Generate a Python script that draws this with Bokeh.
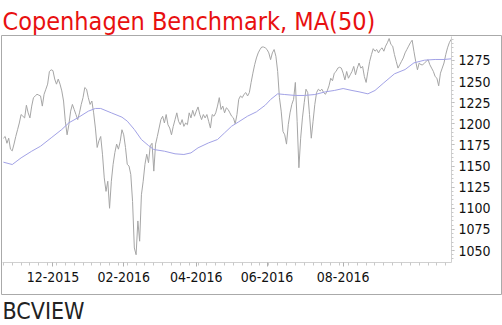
from bokeh.plotting import figure
from bokeh.models import FixedTicker, Range1d, Title, ColumnDataSource
from bokeh.embed import file_html
from bokeh.resources import INLINE

# closes, one per trading day
close = [
    1183, 1185, 1177, 1183, 1170, 1168, 1176, 1185, 1193, 1201,
    1211, 1209, 1207, 1222, 1213, 1207, 1221, 1231, 1233, 1235,
    1234, 1233, 1221, 1235, 1241, 1247, 1262, 1264, 1263, 1253,
    1247, 1253, 1247, 1239, 1227, 1203, 1187, 1199, 1215, 1223,
    1217, 1211, 1205, 1213, 1223, 1231, 1243, 1241, 1231, 1223,
    1227, 1213, 1195, 1172, 1180, 1185, 1164, 1136, 1120, 1132,
    1100, 1132, 1152, 1166, 1176, 1170, 1179, 1193, 1187, 1172,
    1152, 1150, 1140, 1108, 1053, 1045, 1085, 1061, 1116, 1132,
    1152, 1164, 1154, 1174, 1177, 1144, 1176, 1185, 1195, 1205,
    1209, 1201, 1211, 1199, 1195, 1187, 1197, 1205, 1213, 1203,
    1199, 1205, 1197, 1201, 1199, 1213, 1207, 1216, 1209, 1215,
    1220, 1211, 1205, 1211, 1207, 1211, 1203, 1195, 1211, 1209,
    1213, 1221, 1231, 1217, 1221, 1213, 1219, 1217, 1213, 1209,
    1207, 1200, 1211, 1229, 1233, 1231, 1235, 1237, 1233, 1237,
    1249, 1260, 1270, 1278, 1284, 1288, 1291, 1291, 1290, 1288,
    1284, 1276, 1284, 1288, 1280, 1262, 1231, 1215, 1191, 1187,
    1176, 1199, 1213, 1223, 1229, 1249, 1203, 1148, 1183, 1207,
    1225, 1241, 1237, 1211, 1183, 1203, 1223, 1237, 1241, 1239,
    1241, 1237, 1235, 1239, 1245, 1254, 1251, 1260, 1262, 1266,
    1267, 1266, 1260, 1252, 1262, 1254, 1258, 1262, 1268, 1258,
    1266, 1272, 1266, 1268, 1256, 1249, 1262, 1274, 1282, 1289,
    1286, 1288, 1284, 1288, 1290, 1286, 1292, 1296, 1301, 1294,
    1292, 1282, 1274, 1266, 1270, 1274, 1278, 1284, 1288, 1292,
    1296, 1299, 1286, 1274, 1264, 1272, 1270, 1270, 1272, 1274,
    1276, 1270, 1266, 1262, 1256, 1254, 1245, 1260, 1266, 1272,
    1282, 1290, 1296, 1300,
]
close_day = list(range(len(close)))

ma_day = [0, 5, 10, 16, 21, 27, 33, 37, 42, 48, 52, 55, 61, 67, 70, 74, 78, 82,
          85, 91, 97, 102, 106, 110, 116, 121, 125, 129, 133, 138, 143, 148,
          151, 155, 159, 165, 170, 176, 182, 187, 192, 197, 201, 206, 210, 215,
          221, 227, 232, 238, 244, 249, 253]
ma50 = [1154.6, 1151.8, 1159.7, 1167.6, 1173.5, 1183.4, 1193.3, 1201.2, 1207.1,
        1215.0, 1218.2, 1218.2, 1213.0, 1207.9, 1203.2, 1193.3, 1181.4, 1174.3,
        1169.6, 1167.6, 1164.5, 1163.7, 1165.6, 1171.6, 1177.5, 1181.4, 1189.3,
        1197.2, 1202.4, 1209.1, 1214.2, 1222.1, 1228.8, 1235.5, 1234.7, 1233.6,
        1233.6, 1234.7, 1237.9, 1239.5, 1241.8, 1239.5, 1237.9, 1235.5, 1239.5,
        1248.6, 1259.2, 1264.3, 1272.2, 1275.4, 1276.2, 1276.2, 1277.0]

month_tick_day = [28, 68, 109, 149, 192]
month_labels = ["12-2015", "02-2016", "04-2016", "06-2016", "08-2016"]
y_ticks = [1050, 1075, 1100, 1125, 1150, 1175, 1200, 1225, 1250, 1275]

FONT = "DejaVu Sans Condensed"

# axis extents (data space) inside the outer box
X_LO, X_HI = -0.5, 253.2
Y_LO, Y_HI = 1035.8, 1303.4

p = figure(width=502, height=325, output_backend="svg", toolbar_location=None,
           x_range=Range1d(-1.07, 281.5), y_range=Range1d(997.9, 1304.6),
           y_axis_location="right",
           min_border_left=1, min_border_right=1, min_border_top=35,
           min_border_bottom=31)
p.outline_line_color = "#aaaaaa"
p.outline_line_width = 1
p.xgrid.visible = False
p.ygrid.visible = False
p.background_fill_color = "white"
p.border_fill_color = "white"

src = ColumnDataSource(dict(day=close_day, close=close))
p.line("day", "close", source=src, line_color="#a6a6a6", line_width=1)
p.line(ma_day, ma50, line_color="#a2a2e6", line_width=1)

# x axis
xa = p.xaxis[0]
xa.fixed_location = Y_LO
xa.bounds = (X_LO, X_HI)
xa.ticker = FixedTicker(ticks=month_tick_day, minor_ticks=list(range(0, 254, 5)))
xa.major_label_overrides = {d: l for d, l in zip(month_tick_day, month_labels)}
xa.axis_line_color = "#d0d0d0"
xa.major_tick_line_color = "#b0b0b0"
xa.minor_tick_line_color = "#c8c8c8"
xa.major_tick_out = 4
xa.major_tick_in = 0
xa.minor_tick_out = 3
xa.minor_tick_in = 0
xa.major_label_standoff = 6
xa.major_label_text_font = FONT
xa.major_label_text_font_size = "14px"
xa.major_label_text_color = "#111111"

# y axis
ya = p.yaxis[0]
ya.fixed_location = X_HI
ya.bounds = (Y_LO, Y_HI)
ya.ticker = FixedTicker(ticks=y_ticks,
                        minor_ticks=[v for v in range(1040, 1301, 5)])
ya.axis_line_color = "#d0d0d0"
ya.major_tick_line_color = "#b0b0b0"
ya.minor_tick_line_color = "#c8c8c8"
ya.major_tick_out = 3
ya.major_tick_in = 0
ya.minor_tick_out = 2
ya.minor_tick_in = 0
ya.major_label_standoff = 4
ya.major_label_text_font = FONT
ya.major_label_text_font_size = "14px"
ya.major_label_text_color = "#111111"

p.add_layout(Title(text="Copenhagen Benchmark, MA(50)", text_font=FONT,
                   text_font_size="25px", text_color="#e81010",
                   text_font_style="normal", align="left", standoff=0,
                   offset=1), "above")
p.add_layout(Title(text="BCVIEW", text_font=FONT,
                   text_font_size="23px", text_color="#222222",
                   text_font_style="normal", align="left", standoff=3,
                   offset=1), "below")

open("out.html", "w").write(file_html(p, INLINE))
